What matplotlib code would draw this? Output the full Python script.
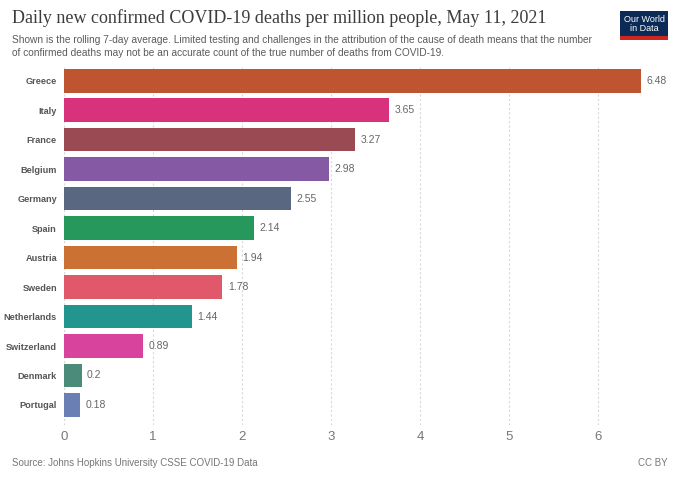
import matplotlib
matplotlib.use("Agg")
import matplotlib.pyplot as plt
from matplotlib.patches import Rectangle

# data
countries = ["Greece", "Italy", "France", "Belgium", "Germany", "Spain",
             "Austria", "Sweden", "Netherlands", "Switzerland", "Denmark", "Portugal"]
values = [6.48, 3.65, 3.27, 2.98, 2.55, 2.14, 1.94, 1.78, 1.44, 0.89, 0.2, 0.18]
labels = ["6.48", "3.65", "3.27", "2.98", "2.55", "2.14", "1.94", "1.78", "1.44", "0.89", "0.2", "0.18"]
colors = ["#BE5430", "#D9327D", "#9A4A53", "#8659A4", "#596780", "#26985B",
          "#CB7134", "#E05869", "#23958F", "#D8449D", "#4B8B79", "#6A80B4"]
xticks = [0, 1, 2, 3, 4, 5, 6]

plt.rcParams["font.family"] = ["Liberation Sans", "DejaVu Sans"]

fig = plt.figure(figsize=(6.8, 4.8), dpi=100)
ax = fig.add_axes([0.094, 0.1146, 0.864, 0.7479])

y = list(range(len(countries)))
ax.barh(y, values, height=0.8, color=colors, zorder=3)
for yi, v, lab in zip(y, values, labels):
    ax.text(v + 0.06, yi, lab, va="center", ha="left", fontsize=7.5, color="#666666")

ax.set_ylim(11.68, -0.5)
ax.set_xlim(0, 6.6)
ax.set_yticks(y)
ax.set_yticklabels(countries, fontsize=6.6, fontweight="bold", color="#555555")
ax.set_xticks(xticks)
ax.set_xticklabels([str(t) for t in xticks], fontsize=9.5, color="#777777")
ax.tick_params(axis="both", length=0)
ax.tick_params(axis="x", pad=4)
ax.tick_params(axis="y", pad=5)
for s in ax.spines.values():
    s.set_visible(False)
ax.grid(axis="x", color="#d8d8d8", linestyle=(0, (2, 2)), linewidth=0.8, zorder=0)

# header
fig.text(0.018, 0.982, "Daily new confirmed COVID-19 deaths per million people, May 11, 2021",
         family=["Liberation Serif", "DejaVu Serif"], fontsize=13, color="#3c3c3c",
         va="top", ha="left")
fig.text(0.018, 0.928,
         "Shown is the rolling 7-day average. Limited testing and challenges in the attribution of the cause of death means that the number\n"
         "of confirmed deaths may not be an accurate count of the true number of deaths from COVID-19.",
         fontsize=7.3, color="#5b5b5b", va="top", ha="left", linespacing=1.4)

# logo
fig.patches.append(Rectangle((0.912, 0.924), 0.071, 0.054, transform=fig.transFigure,
                             facecolor="#0b2a55", edgecolor="none"))
fig.patches.append(Rectangle((0.912, 0.917), 0.071, 0.008, transform=fig.transFigure,
                             facecolor="#ce261e", edgecolor="none"))
fig.text(0.9475, 0.951, "Our World\nin Data", fontsize=6.5, color="white",
         ha="center", va="center", linespacing=1.0)

# footer
fig.text(0.018, 0.035, "Source: Johns Hopkins University CSSE COVID-19 Data",
         fontsize=7, color="#777777", ha="left", va="center")
fig.text(0.982, 0.035, "CC BY", fontsize=7, color="#777777", ha="right", va="center")

fig.savefig("out.png", dpi=100, facecolor="white")
